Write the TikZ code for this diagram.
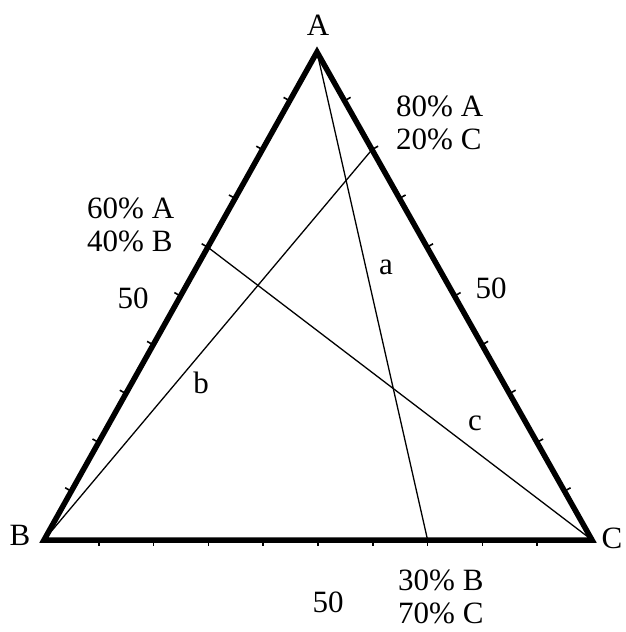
\documentclass[tikz,border=0pt]{standalone}
\usepackage{fontspec}
\setmainfont{Liberation Serif}
\usetikzlibrary{calc}
\tikzset{
  sidebox/.style={
    draw=black,
    line width=5.5pt,
    line join=miter
  },
  tieline/.style={draw=black, line width=1.3pt},
  tickmark/.style={draw=black, line width=1.6pt},
  lbl/.style={
    font=\fontsize{31}{33}\selectfont,
    inner sep=0pt,
    align=left
  }
}

\begin{document}
\begin{tikzpicture}[x=1pt, y=-1pt]
  \useasboundingbox (0,0) rectangle (626,632);
  \coordinate (A) at (317,52);
  \coordinate (B) at (44,540);
  \coordinate (C) at (592,540);

  % ends of the three lines on the opposite sides
  \coordinate (pa) at ($(B)!0.7!(C)$);
  \coordinate (pb) at ($(A)!0.2!(C)$);
  \coordinate (pc) at ($(A)!0.4!(B)$);

  \draw[sidebox] (A) -- (B) -- (C) -- cycle;

  % ticks every 10 %
  \foreach \i in {1,...,9} {
    \draw[tickmark] ($(B)!\i/10!(A)$) -- ($($(B)!\i/10!(A)$)!7pt!90:(A)$);
    \draw[tickmark] ($(C)!\i/10!(A)$) -- ($($(C)!\i/10!(A)$)!7pt!-90:(A)$);
    \draw[tickmark] ($(B)!\i/10!(C)$) -- ($($(B)!\i/10!(C)$)!6pt!-90:(C)$);
  }

  \draw[tieline] (A) -- (pa);
  \draw[tieline] (B) -- (pb);
  \draw[tieline] (C) -- (pc);

  \node[lbl] (labA) at (318,25) {A};
  \node[lbl] (labB) at (20,535) {B};
  \node[lbl] (labC) at (612,538) {C};

  \node[lbl, anchor=west] (tagAC) at (396,123) {80\% A\\20\% C};
  \node[lbl, anchor=west] (tagAB) at (87,225) {60\% A\\40\% B};
  \node[lbl, anchor=west] (tagBC) at (398,597) {30\% B\\70\% C};

  \node[lbl] (midAB) at (133,298) {50};
  \node[lbl] (midAC) at (491,288) {50};
  \node[lbl] (midBC) at (328,602) {50};

  \node[lbl] (la) at (386,267) {a};
  \node[lbl] (lb) at (201,383) {b};
  \node[lbl] (lc) at (475,423) {c};
\end{tikzpicture}
\end{document}
